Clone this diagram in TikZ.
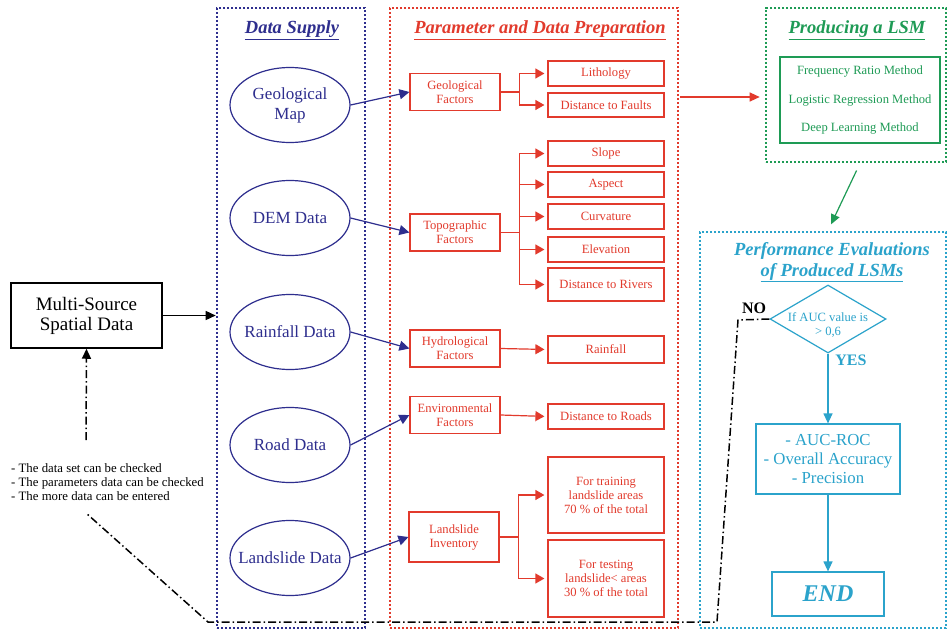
\documentclass[tikz,border=0pt]{standalone}
\usepackage{fontspec}
\setmainfont{Liberation Serif}
\usetikzlibrary{shapes.geometric,arrows.meta,calc}
\definecolor{dsblue}{HTML}{2E2E8E}
\definecolor{prred}{HTML}{E23A2C}
\definecolor{lgreen}{HTML}{1E9B55}
\definecolor{pcyan}{HTML}{2BA3CB}
\begin{document}
\begin{tikzpicture}[x=1pt,y=-1pt,
  cont/.style={draw, line width=2.6pt, dash pattern=on 2.2pt off 1.8pt, inner sep=0pt},
  ttl/.style={font=\fontsize{18.5}{20}\selectfont\bfseries\itshape, inner sep=0pt},
  ell/.style={ellipse, draw=dsblue, line width=1.2pt, minimum width=120pt, minimum height=75pt, inner sep=0pt,
    label={[text=dsblue, align=center, font=\fontsize{17}{20}\selectfont]center:#1}},
  fbox/.style={draw=prred, line width=1.2pt, text=prred, minimum width=90pt, minimum height=37pt, inner sep=0pt, align=center, font=\fontsize{12.6}{14}\selectfont},
  rbox/.style={draw=prred, line width=1.2pt, text=prred, minimum width=116pt, minimum height=25pt, inner sep=0pt, align=center, font=\fontsize{12.6}{14}\selectfont},
  barrow/.style={draw=dsblue, line width=1.2pt, -{Triangle[length=10pt,width=10pt]}},
  rarrow/.style={draw=prred, line width=1.2pt, -{Triangle[length=9pt,width=10pt]}, shorten >=3pt},
  carrow/.style={draw=pcyan, line width=1.2pt, -{Triangle[length=10pt,width=9pt]}},
  cbox/.style={draw=pcyan, line width=1.2pt, text=pcyan, inner sep=0pt, align=center},
  dashdot/.style={draw=black, line width=1.5pt, dash pattern=on 8pt off 3pt on 1.5pt off 3pt}]
\useasboundingbox (0,0) rectangle (948,632);
\fill[white] (0,0) rectangle (948,632);

% containers
\node[cont, draw=dsblue, minimum width=148pt, minimum height=620pt] (ds) at (291,318) {};
\node[ttl, text=dsblue] (dst) at (292,30) {\underline{Data Supply}};
\node[cont, draw=prred, minimum width=288pt, minimum height=620pt] (prep) at (534,318) {};
\node[ttl, text=prred] (prt) at (540,30) {\underline{Parameter and Data Preparation}};
\node[cont, draw=lgreen, minimum width=180pt, minimum height=154pt] (lsm) at (856,85) {};
\node[ttl, text=lgreen] (lsmt) at (857,30) {\underline{Producing a LSM}};
\node[cont, draw=pcyan, minimum width=246pt, minimum height=396pt] (perf) at (823,430) {};
\node[ttl, text=pcyan, align=center, font=\fontsize{18.5}{21}\selectfont\bfseries\itshape] (perft) at (832,262) {Performance Evaluations\\\underline{of Produced LSMs}};

% data supply
\node[ell={Geological\\Map}] (gm) at (290,105) {};
\node[ell={DEM Data}] (dem) at (290,218) {};
\node[ell={Rainfall Data}] (rf) at (290,332) {};
\node[ell={Road Data}] (rd) at (290,445) {};
\node[ell={Landslide Data}] (ld) at (290,558) {};

% factor boxes
\node[fbox] (geo) at (455,92) {Geological\\Factors};
\node[fbox] (topo) at (455,232.5) {Topographic\\Factors};
\node[fbox] (hyd) at (455,348.5) {Hydrological\\Factors};
\node[fbox] (env) at (455,415) {Environmental\\Factors};
\node[fbox, minimum height=50pt] (inv) at (454,537) {Landslide\\Inventory};

% result boxes
\node[rbox] (lith) at (606,73.5) {Lithology};
\node[rbox, minimum height=24pt] (flt) at (606,105) {Distance to Faults};
\node[rbox] (slp) at (606,153.5) {Slope};
\node[rbox] (asp) at (606,184.5) {Aspect};
\node[rbox] (cur) at (606,216.5) {Curvature};
\node[rbox] (elv) at (606,249.5) {Elevation};
\node[rbox, minimum height=33pt] (riv) at (606,284.5) {Distance to Rivers};
\node[rbox, minimum height=27pt] (rain) at (606,349.5) {Rainfall};
\node[rbox] (road) at (606,416.5) {Distance to Roads};
\node[rbox, minimum height=76pt] (trn) at (606,495) {For training\\landslide areas\\70 \% of the total};
\node[rbox, minimum height=77pt] (tst) at (606,578.5) {For testing\\landslide< areas\\30 \% of the total};

% blue arrows
\draw[barrow] (gm.east) -- (geo.west);
\draw[barrow] (dem.east) -- (topo.west);
\draw[barrow] (rf.east) -- (hyd.west);
\draw[barrow] (rd.east) -- (env.west);
\draw[barrow] (ld.east) -- (inv.west);

% red branches
\draw[rarrow] (geo.east) -- ++(19,0) |- (lith.west);
\draw[rarrow] (geo.east) -- ++(19,0) |- (flt.west);
\foreach \t in {slp,asp,cur,elv,riv}
  \draw[rarrow] (topo.east) -- ++(19,0) |- (\t.west);
\draw[rarrow] (hyd.east) -- (rain.west);
\draw[rarrow] (env.east) -- (road.west);
\draw[rarrow] (inv.east) -- ++(19,0) |- (trn.west);
\draw[rarrow] (inv.east) -- ++(19,0) |- (tst.west);

% to LSM
\coordinate (prepout) at (680,97);
\draw[draw=prred, line width=1.2pt, -{Triangle[length=10pt,width=9pt]}, shorten >=5pt] (prepout) -- (prepout -| lsm.west) ;

% LSM methods
\node[draw=lgreen, line width=1.2pt, text=lgreen, minimum width=160pt, minimum height=86pt, inner sep=0pt, align=center, font=\fontsize{12.6}{28.5}\selectfont] (meth) at (860,100) {Frequency Ratio Method\\Logistic Regression Method\\Deep Learning Method};

\draw[draw=lgreen, line width=1.2pt, -{Triangle[length=10pt,width=9pt]}, shorten <=8pt, shorten >=7pt] ($(lsm.south)+(4,0)$) -- ($(perf.north)+(5,0)$);

% performance
\node[draw=pcyan, line width=1.2pt, diamond, minimum width=116pt, minimum height=68pt, inner sep=0pt,
  label={[text=pcyan, align=center, font=\fontsize{12.6}{14}\selectfont, yshift=-6pt]center:If AUC value is\\> 0,6}] (dec) at (828,319) {};
\node[cbox, minimum width=144pt, minimum height=70pt, font=\fontsize{16.8}{19}\selectfont] (met) at (828,459) {- AUC-ROC\\- Overall Accuracy\\- Precision};
\node[cbox, minimum width=112pt, minimum height=44pt, font=\fontsize{24}{26}\selectfont\bfseries\itshape] (end) at (828,594) {END};
\node[text=pcyan, font=\fontsize{16}{18}\selectfont\bfseries, inner sep=0pt] (yes) at (851,360) {YES};
\node[text=black, font=\fontsize{16}{18}\selectfont\bfseries, inner sep=0pt] (no) at (754,308) {NO};
\draw[carrow] (dec.south) -- (met.north);
\draw[carrow] (met.south) -- (end.north);

% multi-source
\node[draw=black, line width=1.5pt, minimum width=151pt, minimum height=65pt, inner sep=0pt, align=center, font=\fontsize{19}{20}\selectfont] (ms) at (86.5,315.5) {Multi-Source\\Spatial Data};
\draw[line width=1.5pt, -{Triangle[length=10pt,width=9pt]}] (ms.east) -- (ms.east -| ds.west);

\node[anchor=north west, align=left, inner sep=0pt, font=\fontsize{12.8}{14}\selectfont] (notes) at (11,463) {- The data set can be checked\\- The parameters data can be checked\\- The more data can be entered};

\coordinate (fbtop) at (86,440);
\coordinate (fbbot) at (86,513);
\coordinate (c1) at (208,622);
\coordinate (c2) at (717,622);
\coordinate (c3) at (738,320);
\draw[dashdot, -{Triangle[length=10pt,width=9pt]}] (fbtop) -- (ms.south);
\draw[dashdot] (dec.west) -- (c3) -- (c2) -- (c1) -- (fbbot);
\end{tikzpicture}
\end{document}
